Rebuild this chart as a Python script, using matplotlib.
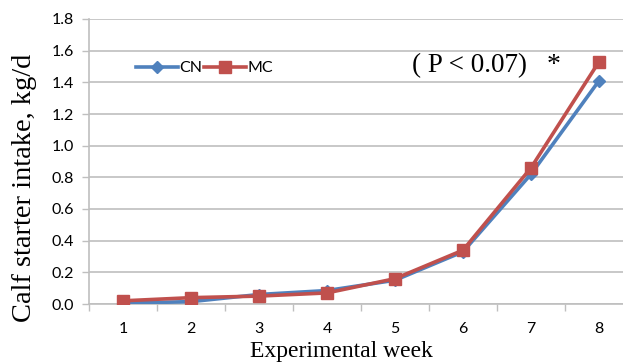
import matplotlib
matplotlib.use("Agg")
import matplotlib.pyplot as plt
import numpy as np

weeks = [1, 2, 3, 4, 5, 6, 7, 8]
cn = [0.005, 0.015, 0.06, 0.085, 0.15, 0.33, 0.82, 1.41]
mc = [0.02, 0.04, 0.05, 0.07, 0.16, 0.34, 0.86, 1.53]
yticks = [0.0, 0.2, 0.4, 0.6, 0.8, 1.0, 1.2, 1.4, 1.6, 1.8]

blue = "#4F81BD"
red = "#C0504D"
grid = "#BFBFBF"

W, H = 623, 364
fig = plt.figure(figsize=(W / 100, H / 100), dpi=100)
ax = fig.add_axes([89 / W, (H - 304) / H, (633 - 89) / W, (304 - 19) / H])

ax.plot(weeks, cn, color=blue, lw=2.6, marker="D", ms=6.5, mfc=blue, mec=blue, label="CN", zorder=3)
ax.plot(weeks, mc, color=red, lw=2.6, marker="s", ms=9, mfc=red, mec=red, label="MC", zorder=4)

ax.set_xlim(0.5, 8.5)
ax.set_ylim(0, 1.8)
ax.set_yticks(yticks)
ax.set_yticklabels([f"{v:.1f}" for v in yticks], fontfamily="Lato", fontsize=11.5)
ax.set_xticks(weeks)
ax.set_xticklabels([str(w) for w in weeks], fontfamily="Lato", fontsize=11.5)
ax.set_xticks(np.arange(0.5, 8.6, 1.0), minor=True)
ax.tick_params(axis="x", which="major", length=0, pad=13)
ax.tick_params(axis="x", which="minor", length=5, width=1, color=grid, direction="out")
ax.tick_params(axis="y", which="major", length=5, width=1, color=grid, direction="out", pad=6)

ax.grid(axis="y", color=grid, lw=1.2)
ax.set_axisbelow(True)
for s in ["top", "right"]:
    ax.spines[s].set_visible(False)
for s in ["left", "bottom"]:
    ax.spines[s].set_color(grid)
    ax.spines[s].set_linewidth(1.2)

fig.text(341 / W, 1 - 352 / H, "Experimental week", ha="center", va="center",
         fontfamily="Liberation Serif", fontsize=17)
fig.text(25 / W, 1 - 188 / H, "Calf starter intake, kg/d", ha="center", va="center", rotation=90,
         fontfamily="Liberation Serif", fontsize=20.5)

fig.text(412 / W, 1 - 66 / H, "( P < 0.07)", ha="left", va="center",
         fontfamily="Liberation Serif", fontsize=19.5)
fig.text(554 / W, 1 - 66 / H, "*", ha="center", va="center",
         fontfamily="Liberation Serif", fontsize=20)

leg = ax.legend(loc="center left", bbox_to_anchor=(130 / W, 1 - 68 / H), bbox_transform=fig.transFigure,
                ncol=2, frameon=False, prop={"family": "Lato", "size": 11.5},
                handlelength=2.6, handletextpad=0.1, columnspacing=0.1, borderaxespad=0)

fig.savefig("out.png", dpi=100)
